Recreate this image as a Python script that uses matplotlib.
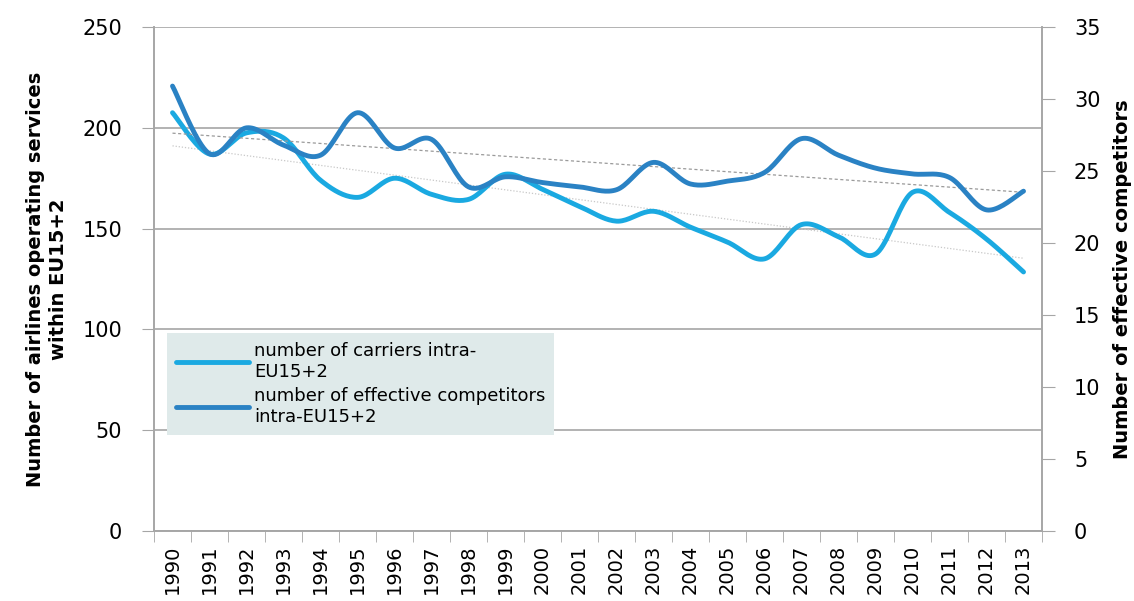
import numpy as np
import matplotlib.pyplot as plt

years = [str(y) for y in range(1990, 2014)]
carriers = [207.5, 187, 197.5, 195, 174, 165.5, 175, 167, 164.5, 177, 169.5, 161,
            153.7, 158.6, 150.7, 143.3, 135, 152, 146, 137.4, 168, 158, 144.8, 128.5]
competitors = [30.9, 26.2, 28.0, 26.8, 26.1, 29.05, 26.6, 27.2, 23.9, 24.6, 24.2, 23.9,
               23.7, 25.6, 24.1, 24.3, 24.9, 27.25, 26.1, 25.2, 24.8, 24.55, 22.3, 23.6]

light = '#1aa9e1'
dark = '#2a82c4'
grey = '#a6a6a6'


# Excel-like smoothed line (Catmull-Rom through the points)
def smooth(x, y, n=20):
    x = np.asarray(x, float)
    y = np.asarray(y, float)
    px = np.concatenate([[x[0]], x, [x[-1]]])
    py = np.concatenate([[y[0]], y, [y[-1]]])
    xs, ys = [], []
    t = np.linspace(0, 1, n, endpoint=False)
    for i in range(1, len(px) - 2):
        for p, out in ((px, xs), (py, ys)):
            p0, p1, p2, p3 = p[i - 1], p[i], p[i + 1], p[i + 2]
            out.extend(0.5 * (2 * p1 + (-p0 + p2) * t + (2 * p0 - 5 * p1 + 4 * p2 - p3) * t ** 2
                              + (-p0 + 3 * p1 - 3 * p2 + p3) * t ** 3))
    xs.append(x[-1])
    ys.append(y[-1])
    return np.array(xs), np.array(ys)


plt.rcParams['font.family'] = ['DejaVu Sans']

fig = plt.figure(figsize=(11.34, 6.01), dpi=100)
ax = fig.add_axes([0.1358, 0.1165, 0.7831, 0.8385])
ax2 = ax.twinx()

x = np.arange(len(years))

# trend lines
k1 = np.polyfit(x, carriers, 1)
ax.plot(x, np.polyval(k1, x), color='#c8c8c8', lw=0.9, ls=(0, (1, 1.5)), zorder=2)
k2 = np.polyfit(x, competitors, 1)
ax2.plot(x, np.polyval(k2, x), color='#9a9a9a', lw=0.9, ls=(0, (2.5, 2)), zorder=2)

sx, sy = smooth(x, carriers)
l1, = ax.plot(sx, sy, color=light, lw=3.5, solid_capstyle='round', zorder=3,
              label='number of carriers intra-\nEU15+2')
sx, sy = smooth(x, competitors)
l2, = ax2.plot(sx, sy, color=dark, lw=3.5, solid_capstyle='round', zorder=3,
               label='number of effective competitors\nintra-EU15+2')

ax.set_xlim(-0.5, len(years) - 0.5)
ax.set_ylim(0, 250)
ax2.set_ylim(0, 35)
ax.set_yticks(range(0, 251, 50))
ax2.set_yticks(range(0, 36, 5))
ax.set_xticks(x)
ax.set_xticklabels(years, rotation=90, fontsize=14)
ax.set_xticks(np.arange(-0.5, len(years)), minor=True)
ax.tick_params(axis='x', which='major', length=0, pad=10)
ax.tick_params(axis='x', which='minor', length=8, color=grey)
ax.tick_params(axis='y', labelsize=15, length=9, color=grey, pad=14)
ax2.tick_params(axis='y', labelsize=15, length=9, color=grey, pad=14)

ax.grid(axis='y', color=grey, lw=1.2)
ax.set_axisbelow(True)
for a in (ax, ax2):
    a.spines['top'].set_visible(False)
    for s in ('left', 'right', 'bottom'):
        a.spines[s].set_color(grey)
        a.spines[s].set_linewidth(1.2)

ax.set_ylabel('Number of airlines operating services\nwithin EU15+2', fontsize=14,
              fontweight='bold', labelpad=10, linespacing=1.3)
ax2.set_ylabel('Number of effective competitors', fontsize=14, fontweight='bold',
               labelpad=9)

leg = ax2.legend(handles=[l1, l2], loc='upper left', bbox_to_anchor=(0.015, 0.393),
                 fontsize=13, frameon=True, fancybox=False, facecolor='#dfeaea',
                 edgecolor='none', framealpha=1, handlelength=4.0, handletextpad=0.3,
                 labelspacing=0.35, borderpad=0.5, borderaxespad=0)

fig.savefig('out.png', dpi=100)
